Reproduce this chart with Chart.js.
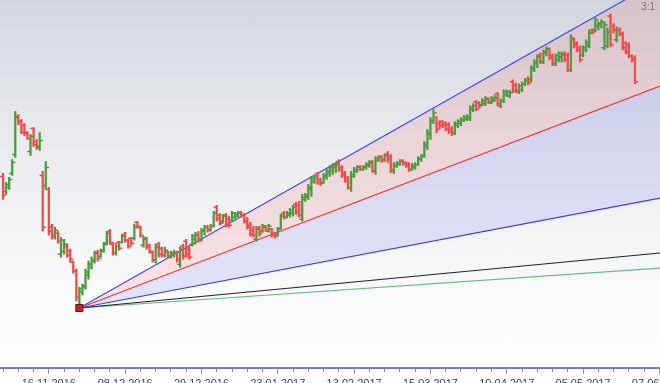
<!DOCTYPE html>
<html>
<head>
<meta charset="utf-8">
<script src="https://cdn.jsdelivr.net/npm/chart.js@4"></script>
<style>
html, body { margin: 0; padding: 0; overflow: hidden; background: #fff; }
#wrap {
    position: relative; width: 660px; height: 395px;
    background: linear-gradient(to bottom, #d2d7df 0px, #e9ebee 150px, #f7f8f9 280px, #ffffff 369px);
}
#ratio { position: absolute; right: 5px; top: 1px; font: 10px "Liberation Sans", Arial, sans-serif; color: #777; }
</style>
</head>
<body>
<div id="wrap"><canvas id="c"></canvas><span id="ratio">3:1</span></div>
<script>
const tickLabels = ["16.11.2016", "08.12.2016", "29.12.2016", "23.01.2017", "13.02.2017",
    "15.03.2017", "10.04.2017", "05.05.2017", "07.06.2017"];

const opens = [
    193,178,182,196,215,253,248,244,237,218,
    241,228,223,194,184,180,142,132,136,115,
    118,123,118,107,98,64,77,82,94,102,
    108,117,113,119,126,138,125,116,127,127,
    135,129,131,131,147,142,124,130,124,117,
    109,125,121,114,117,113,114,116,105,123,
    128,120,125,130,135,130,138,142,140,143,
    162,154,148,154,151,149,152,153,156,154,
    148,144,139,130,141,138,142,138,140,136,
    135,141,156,152,154,156,165,164,150,170,
    172,180,188,195,190,187,192,196,199,202,
    208,202,196,192,182,193,198,203,200,202,
    204,208,198,209,213,210,215,213,198,203,
    205,209,207,206,200,202,205,210,214,223,
    235,248,252,246,248,246,245,241,237,244,
    246,249,250,251,260,268,267,265,266,271,
    267,269,276,264,269,275,274,288,285,278,
    280,286,291,290,300,306,315,308,317,320,
    314,306,310,313,316,315,300,330,326,322,
    315,320,324,340,340,344,346,322,324,354,
    344,330,340,336,327,325,314,312
];
const highs = [
    196,187,192,210,258,255,250,246,238,235,
    242,230,237,198,208,182,145,142,138,132,
    130,125,120,108,100,82,85,100,108,112,
    118,119,120,127,138,140,127,126,128,135,
    137,130,132,145,148,143,133,132,125,118,
    125,127,122,122,118,118,119,118,122,125,
    130,122,135,137,138,141,144,144,145,158,
    164,156,155,156,153,158,157,158,158,156,
    152,147,143,143,143,145,144,145,141,137,
    142,155,158,158,161,164,167,168,175,176,
    185,193,194,197,191,196,200,204,206,207,
    210,204,198,193,198,202,204,204,204,207,
    209,209,213,214,214,216,218,215,207,208,
    210,210,208,207,206,207,213,215,228,240,
    252,260,253,249,249,248,247,243,248,250,
    252,254,255,264,266,269,268,271,273,272,
    273,274,277,271,280,280,279,290,287,286,
    288,291,293,304,310,315,317,320,323,322,
    316,316,318,318,318,317,335,332,328,324,
    324,330,340,341,352,348,350,348,342,356,
    346,343,342,338,328,327,315,314
];
const lows = [
    170,175,180,194,212,245,236,234,230,214,
    223,220,219,138,180,134,130,130,126,112,
    115,112,107,96,68,61,74,80,90,100,
    106,108,112,117,124,125,114,114,119,126,
    127,121,124,129,141,132,122,120,116,107,
    106,112,112,112,111,111,112,107,102,110,
    112,110,123,125,127,128,134,137,138,142,
    148,144,146,142,142,148,150,152,152,146,
    140,133,132,128,133,137,138,137,132,131,
    133,140,150,151,152,153,155,152,148,168,
    170,173,186,185,184,186,190,193,195,197,
    198,192,187,180,178,192,197,199,199,200,
    202,197,195,208,207,208,207,197,196,202,
    204,204,202,198,199,200,204,208,212,220,
    230,246,237,241,242,239,236,234,235,242,
    244,248,249,249,258,259,262,264,264,266,
    266,268,264,262,267,273,272,277,277,276,
    278,284,285,288,298,302,306,306,314,310,
    304,304,308,308,308,298,298,322,318,308,
    313,318,322,336,338,340,342,320,322,323,
    337,328,334,320,316,312,308,286
];
const closes = [
    174,185,190,207,252,248,237,236,231,233,
    225,222,229,142,202,138,134,139,128,129,
    125,114,110,98,72,80,83,97,105,109,
    116,111,118,125,136,127,116,123,121,133,
    129,123,126,142,143,134,131,122,118,109,
    122,115,114,119,113,116,117,110,120,113,
    115,112,133,134,129,139,142,139,143,156,
    151,146,153,144,144,156,155,157,154,148,
    142,135,134,140,136,143,140,143,134,133,
    140,153,152,156,159,162,157,154,172,174,
    182,191,192,187,186,194,198,202,204,205,
    200,194,189,182,195,200,202,200,203,205,
    207,199,211,212,209,214,210,200,204,206,
    208,206,204,200,204,205,211,213,225,237,
    249,257,240,244,244,241,238,236,246,248,
    250,252,253,262,264,261,264,269,271,268,
    271,272,266,269,278,278,277,279,279,284,
    286,289,287,302,308,313,308,318,321,312,
    306,314,316,315,310,300,332,324,320,310,
    322,327,337,338,350,346,348,345,338,325,
    340,340,336,322,318,314,310,288
];

// Gann fan: anchored on the low of bar 25, slopes in price per bar
const anchorIndex = 25;
const fanSlopes = [1.73, 1.17, 0.58, 0.29, 0.21];
const fanColors = ["#4646e6", "#e83a3a", "#3c3ce0", "#222222", "#6cb884"];
const fanFills = ["rgba(255,0,0,0.09)", "rgba(0,0,255,0.085)", false, false, false];

const xMin = -1, xMax = 215.2;
const up = "#4b9a3e", down = "#f04a4a";
const colors = closes.map((c, i) => c >= opens[i] ? up : down);
const anchorValue = lows[anchorIndex];

const fanSets = fanSlopes.map((s, k) => ({
    type: "line",
    data: [
        { x: anchorIndex, y: anchorValue },
        { x: xMax, y: anchorValue + s * (xMax - anchorIndex) }
    ],
    borderColor: fanColors[k],
    borderWidth: 1.2,
    pointRadius: 0,
    showLine: true,
    tension: 0,
    fill: fanFills[k] ? "+1" : false,
    backgroundColor: fanFills[k] || "transparent"
}));

new Chart(document.getElementById("c"), {
    type: "scatter",
    data: {
        datasets: [
            {
                data: [{ x: anchorIndex, y: anchorValue }],
                pointStyle: "rect",
                pointRadius: 5,
                backgroundColor: "#e3141a",
                borderColor: "#3a2020",
                borderWidth: 1
            },
            {
                data: opens.map((o, i) => ({ x: i - 0.5, y: o })),
                pointStyle: "line",
                pointRadius: 1.6,
                borderWidth: 1.5,
                borderColor: colors
            },
            {
                data: closes.map((c, i) => ({ x: i + 0.5, y: c })),
                pointStyle: "line",
                pointRadius: 1.6,
                borderWidth: 1.5,
                borderColor: colors
            },
            {
                type: "bar",
                data: highs.map((h, i) => ({ x: i, y: [lows[i], h] })),
                backgroundColor: colors,
                barThickness: 1.6,
                borderWidth: 0,
                borderSkipped: false
            },
            ...fanSets
        ]
    },
    options: {
        responsive: true,
        maintainAspectRatio: false,
        animation: false,
        layout: { padding: 0, autoPadding: false },
        plugins: {
            legend: { display: false },
            tooltip: { enabled: false },
            filler: { drawTime: "beforeDatasetsDraw" }
        },
        scales: {
            x: {
                type: "linear",
                min: xMin,
                max: xMax,
                offset: false,
                afterBuildTicks: axis => {
                    let t = [];
                    for (let v = 0; v <= xMax; v += 5) t.push({ value: v });
                    axis.ticks = t;
                },
                // the last label runs off the edge, as in the original; don't shrink the plot for it
                afterFit: axis => {
                    axis.paddingLeft = 0;
                    axis.paddingRight = 0;
                },
                grid: {
                    offset: false,
                    drawOnChartArea: false,
                    tickLength: 6,
                    tickWidth: 1,
                    tickColor: "#8c8c8c",
                    tickBorderDash: ctx => (ctx.tick && (ctx.tick.value - 15) % 25 === 0) ? [] : [3, 20]
                },
                border: { color: "#7878c8", width: 2 },
                ticks: {
                    autoSkip: false,
                    maxRotation: 0,
                    padding: 4,
                    color: "#444",
                    font: { size: 11, family: "'Liberation Sans', Arial, sans-serif" },
                    callback: v => (v - 15) % 25 === 0 ? tickLabels[(v - 15) / 25] : ""
                }
            },
            y: { display: false, min: 1, max: 370 }
        }
    }
});
</script>
</body>
</html>
